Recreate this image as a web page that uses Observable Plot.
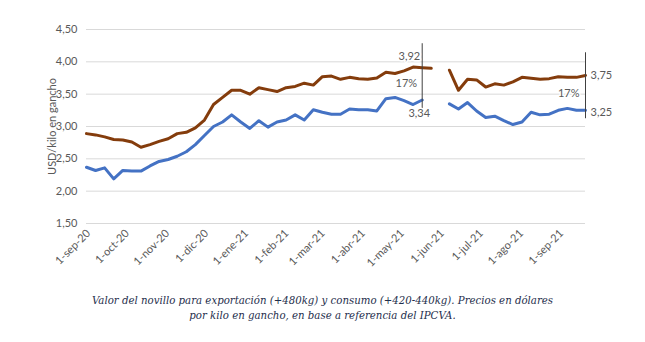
<!DOCTYPE html>
<html><head><meta charset="utf-8">
<script src="https://cdn.jsdelivr.net/npm/d3@7"></script>
<script src="https://cdn.jsdelivr.net/npm/@observablehq/plot@0.6"></script>
<style>
body{margin:0;background:#fff;width:645px;height:342px;overflow:hidden;}
#caption{font-family:"DejaVu Serif",serif;font-style:italic;font-size:10.2px;color:#1f2f4d;text-align:center;line-height:15px;padding-top:8px;}
</style></head><body>
<div id="chart"></div>
<div id="caption">Valor del novillo para exportación (+480kg) y consumo (+420-440kg). Precios en dólares<br>por kilo en gancho, en base a referencia del IPCVA.</div>
<script>
const weeks = ["2020-09-01","2020-09-08","2020-09-15","2020-09-22","2020-09-29","2020-10-06","2020-10-13","2020-10-20","2020-10-27","2020-11-03",
"2020-11-10","2020-11-17","2020-11-24","2020-12-01","2020-12-08","2020-12-15","2020-12-22","2020-12-29","2021-01-05","2021-01-12",
"2021-01-19","2021-01-26","2021-02-02","2021-02-09","2021-02-16","2021-02-23","2021-03-02","2021-03-09","2021-03-16","2021-03-23",
"2021-03-30","2021-04-06","2021-04-13","2021-04-20","2021-04-27","2021-05-04","2021-05-11","2021-05-18","2021-05-25","2021-06-01",
"2021-06-08","2021-06-15","2021-06-22","2021-06-29","2021-07-06","2021-07-13","2021-07-20","2021-07-27","2021-08-03","2021-08-10",
"2021-08-17","2021-08-24","2021-08-31","2021-09-07","2021-09-14","2021-09-21"];

const exportacion = [2.89,2.87,2.84,2.80,2.79,2.76,2.68,2.72,2.77,2.81,
2.89,2.91,2.98,3.10,3.34,3.45,3.56,3.56,3.50,3.60,
3.57,3.54,3.60,3.62,3.67,3.64,3.77,3.78,3.73,3.76,
3.74,3.73,3.75,3.84,3.82,3.86,3.92,3.91,3.90,null,
3.87,3.56,3.73,3.72,3.61,3.66,3.64,3.69,3.76,3.745,
3.73,3.74,3.77,3.76,3.76,3.79];

const consumo = [2.37,2.32,2.36,2.19,2.32,2.31,2.31,2.39,2.46,2.49,
2.54,2.61,2.72,2.86,3.00,3.07,3.18,3.07,2.97,3.09,
2.99,3.07,3.10,3.18,3.10,3.26,3.22,3.19,3.19,3.27,
3.26,3.26,3.24,3.43,3.45,3.40,3.34,3.41,null,null,
3.35,3.27,3.37,3.24,3.14,3.16,3.09,3.03,3.07,3.22,
3.18,3.19,3.25,3.28,3.25,3.25];

const yTicks = [1.5,2.0,2.5,3.0,3.5,4.0,4.5];
const xTickDates = ["2020-09-01","2020-10-01","2020-11-01","2020-12-01","2021-01-01","2021-02-01","2021-03-01","2021-04-01","2021-05-01","2021-06-01","2021-07-01","2021-08-01","2021-09-01"];
const xTickLabels = ["1-sep-20","1-oct-20","1-nov-20","1-dic-20","1-ene-21","1-feb-21","1-mar-21","1-abr-21","1-may-21","1-jun-21","1-jul-21","1-ago-21","1-sep-21"];

const bracketDates = ["2021-05-18","2021-09-21"];
const bracketTop = [4.28,4.14];
const bracketBottom = [3.14,3.12];

const noteDates = ["2021-05-18","2021-05-18","2021-05-18","2021-09-21","2021-09-21","2021-09-21"];
const noteValues = [3.92,3.63,3.34,3.75,3.50,3.25];
const noteLabels = ["3,92","17%","3,34","3,75","17%","3,25"];

const parse = d3.utcParse("%Y-%m-%d");
const rows = weeks.map((w,i)=>({date:parse(w), exportacion:exportacion[i], consumo:consumo[i]}));
const tickDates = xTickDates.map(parse);
const tickLabelMap = new Map(tickDates.map((d,i)=>[+d, xTickLabels[i]]));
const brackets = bracketDates.map((d,i)=>({date:parse(d), top:bracketTop[i], bottom:bracketBottom[i]}));
const notes = noteDates.map((d,i)=>({date:parse(d), value:noteValues[i], label:noteLabels[i]}));
const noteStyle = [
  {textAnchor:"end", dx:-2, dy:-11},
  {textAnchor:"end", dx:-5, dy:-2},
  {textAnchor:"middle", dx:-3, dy:9},
  {textAnchor:"start", dx:5, dy:-3},
  {textAnchor:"end", dx:-6, dy:-1},
  {textAnchor:"start", dx:5, dy:2}
];

const chart = Plot.plot({
  width:645, height:285,
  marginLeft:86, marginRight:60, marginTop:29, marginBottom:62,
  style:{fontFamily:"Lato, sans-serif", fontSize:"11px", color:"#595959", background:"#fff", overflow:"visible"},
  x:{type:"utc", domain:[rows[0].date, rows[rows.length-1].date]},
  y:{domain:[1.5,4.5]},
  marks:[
    Plot.gridY(yTicks,{stroke:"#d9d9d9", strokeOpacity:1, strokeWidth:1}),
    Plot.axisY(yTicks,{tickSize:0, tickPadding:9, tickFormat:d=>d.toFixed(2).replace(".",","),
      label:"USD/kilo en gancho", labelAnchor:"center", labelArrow:"none", labelOffset:38, fill:"#595959"}),
    Plot.axisX(tickDates,{tickSize:0, tickRotate:-45, tickPadding:8, dx:2,
      tickFormat:d=>tickLabelMap.get(+d), label:null, fill:"#595959"}),
    Plot.line(rows,{x:"date", y:"exportacion", stroke:"#843c0c", strokeWidth:3}),
    Plot.line(rows,{x:"date", y:"consumo", stroke:"#4472c4", strokeWidth:3}),
    Plot.ruleX(brackets,{x:"date", y1:"top", y2:"bottom", stroke:"#404040", strokeWidth:1}),
    ...notes.map((n,i)=>Plot.text([n],{x:"date", y:"value", text:"label", fill:"#595959",
      stroke:"white", strokeWidth:3, fontSize:11, ...noteStyle[i]}))
  ]
});
document.getElementById("chart").appendChild(chart);
</script>
</body></html>
